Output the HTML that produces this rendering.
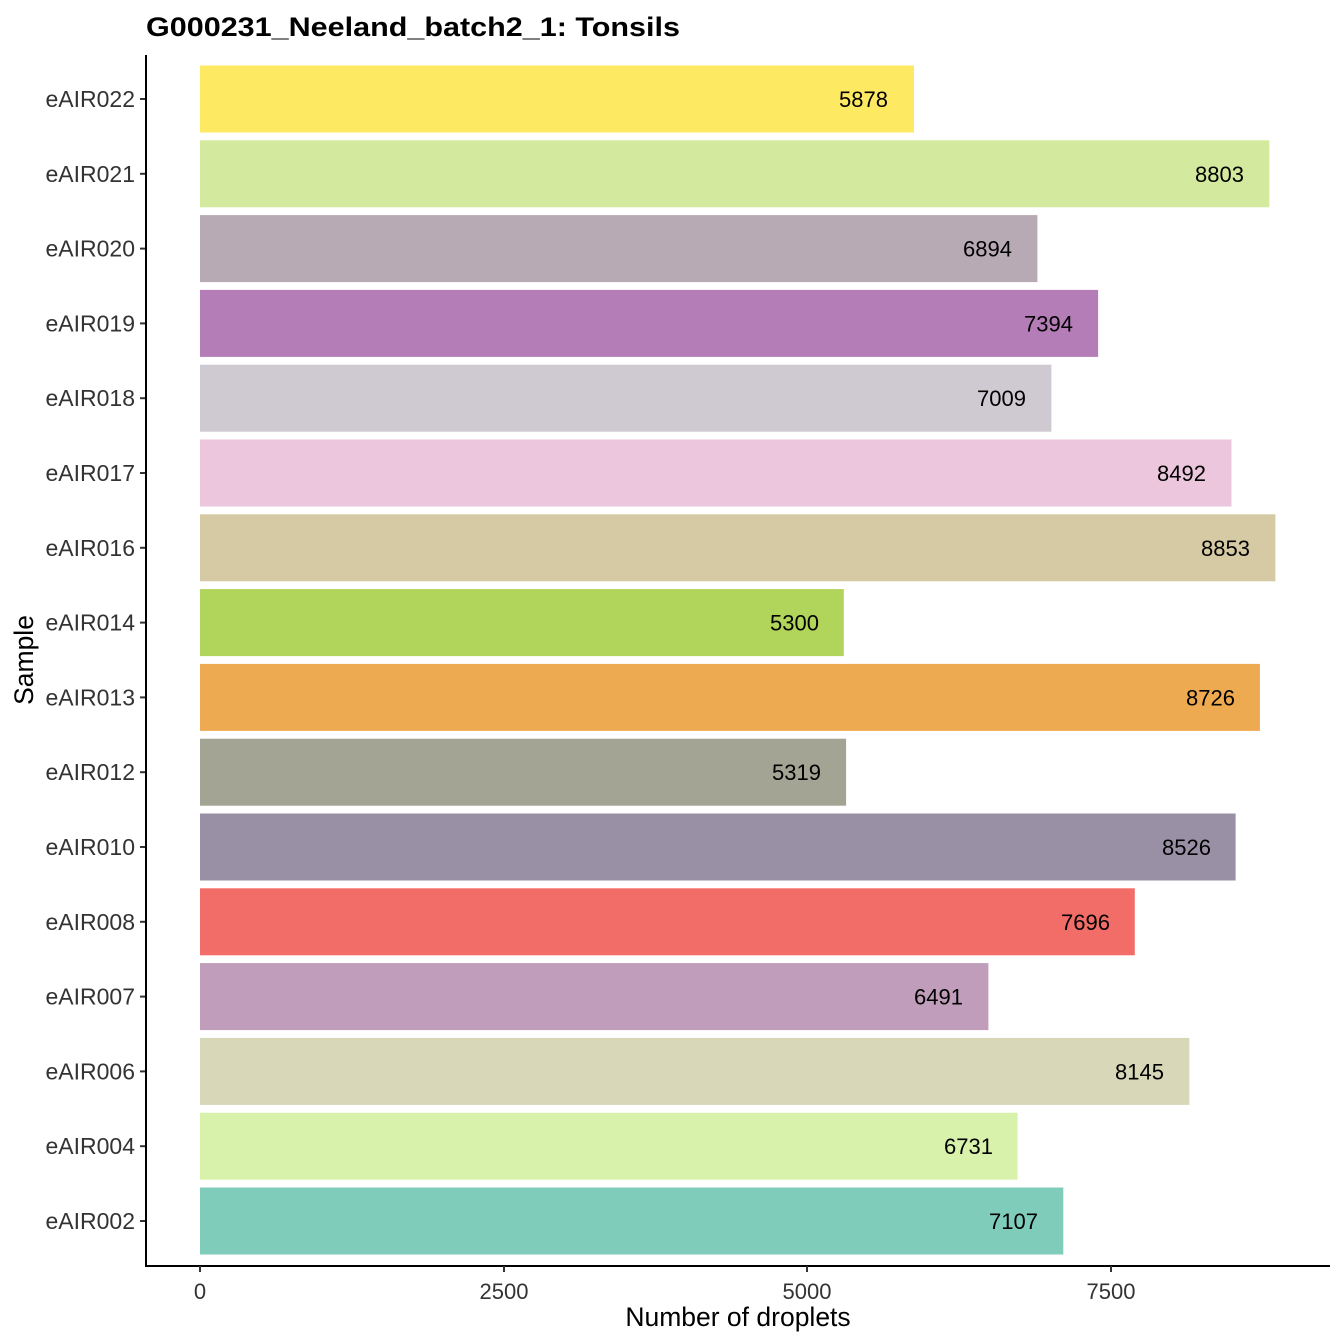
<!DOCTYPE html>
<html><head><meta charset="utf-8"><style>html,body{margin:0;padding:0;background:#fff}svg{display:block}text{font-family:"Liberation Sans",Arial,sans-serif}</style></head>
<body>
<svg width="1344" height="1344" xmlns="http://www.w3.org/2000/svg">
<rect width="1344" height="1344" fill="#fff"/>
<text x="146" y="36" font-size="27" font-weight="bold" fill="#000" textLength="534" lengthAdjust="spacingAndGlyphs">G000231_Neeland_batch2_1: Tonsils</text>
<g>
<rect x="200" y="65.5" width="714" height="67" fill="#FEEA62"/>
<rect x="200" y="140.3" width="1069.3" height="67" fill="#D3E99D"/>
<rect x="200" y="215.1" width="837.4" height="67" fill="#B8AAB5"/>
<rect x="200" y="289.9" width="898.1" height="67" fill="#B47DB7"/>
<rect x="200" y="364.7" width="851.4" height="67" fill="#CFCAD1"/>
<rect x="200" y="439.5" width="1031.5" height="67" fill="#ECC6DC"/>
<rect x="200" y="514.3" width="1075.4" height="67" fill="#D5CAA3"/>
<rect x="200" y="589.1" width="643.8" height="67" fill="#B0D55A"/>
<rect x="200" y="663.9" width="1059.9" height="67" fill="#EEAA50"/>
<rect x="200" y="738.7" width="646.1" height="67" fill="#A3A494"/>
<rect x="200" y="813.5" width="1035.6" height="67" fill="#9990A6"/>
<rect x="200" y="888.3" width="934.8" height="67" fill="#F26D67"/>
<rect x="200" y="963.1" width="788.4" height="67" fill="#C09DBA"/>
<rect x="200" y="1037.9" width="989.4" height="67" fill="#D8D7B8"/>
<rect x="200" y="1112.7" width="817.6" height="67" fill="#D9F2AB"/>
<rect x="200" y="1187.5" width="863.3" height="67" fill="#7FCCBA"/>
</g>
<g font-size="22" text-anchor="end" fill="#000">
<text x="888" y="107">5878</text>
<text x="1244" y="181.8">8803</text>
<text x="1012" y="256.6">6894</text>
<text x="1073" y="331.4">7394</text>
<text x="1026" y="406.2">7009</text>
<text x="1206" y="481">8492</text>
<text x="1250" y="555.8">8853</text>
<text x="819" y="630.6">5300</text>
<text x="1235" y="705.4">8726</text>
<text x="821" y="780.2">5319</text>
<text x="1211" y="855">8526</text>
<text x="1110" y="929.8">7696</text>
<text x="963" y="1004.6">6491</text>
<text x="1164" y="1079.4">8145</text>
<text x="993" y="1154.2">6731</text>
<text x="1038" y="1229">7107</text>
</g>
<g stroke="#333" stroke-width="2">
<line x1="140" y1="99" x2="146" y2="99"/><line x1="140" y1="173.8" x2="146" y2="173.8"/><line x1="140" y1="248.6" x2="146" y2="248.6"/><line x1="140" y1="323.4" x2="146" y2="323.4"/><line x1="140" y1="398.2" x2="146" y2="398.2"/><line x1="140" y1="473" x2="146" y2="473"/><line x1="140" y1="547.8" x2="146" y2="547.8"/><line x1="140" y1="622.6" x2="146" y2="622.6"/><line x1="140" y1="697.4" x2="146" y2="697.4"/><line x1="140" y1="772.2" x2="146" y2="772.2"/><line x1="140" y1="847" x2="146" y2="847"/><line x1="140" y1="921.8" x2="146" y2="921.8"/><line x1="140" y1="996.6" x2="146" y2="996.6"/><line x1="140" y1="1071.4" x2="146" y2="1071.4"/><line x1="140" y1="1146.2" x2="146" y2="1146.2"/><line x1="140" y1="1221" x2="146" y2="1221"/>
</g>
<g font-size="23" text-anchor="end" fill="#333">
<text x="135" y="107">eAIR022</text>
<text x="135" y="181.8">eAIR021</text>
<text x="135" y="256.6">eAIR020</text>
<text x="135" y="331.4">eAIR019</text>
<text x="135" y="406.2">eAIR018</text>
<text x="135" y="481">eAIR017</text>
<text x="135" y="555.8">eAIR016</text>
<text x="135" y="630.6">eAIR014</text>
<text x="135" y="705.4">eAIR013</text>
<text x="135" y="780.2">eAIR012</text>
<text x="135" y="855">eAIR010</text>
<text x="135" y="929.8">eAIR008</text>
<text x="135" y="1004.6">eAIR007</text>
<text x="135" y="1079.4">eAIR006</text>
<text x="135" y="1154.2">eAIR004</text>
<text x="135" y="1229">eAIR002</text>
</g>
<line x1="146" y1="55" x2="146" y2="1267" stroke="#000" stroke-width="2"/>
<line x1="145" y1="1266" x2="1330" y2="1266" stroke="#000" stroke-width="2"/>
<g font-size="22" fill="#333" text-anchor="middle">
<line x1="200" y1="1266" x2="200" y2="1272" stroke="#333" stroke-width="2"/><text x="200" y="1299">0</text>
<line x1="504" y1="1266" x2="504" y2="1272" stroke="#333" stroke-width="2"/><text x="504" y="1299">2500</text>
<line x1="807" y1="1266" x2="807" y2="1272" stroke="#333" stroke-width="2"/><text x="807" y="1299">5000</text>
<line x1="1111" y1="1266" x2="1111" y2="1272" stroke="#333" stroke-width="2"/><text x="1111" y="1299">7500</text>
</g>
<text x="738" y="1326" font-size="26.5" text-anchor="middle" fill="#000">Number of droplets</text>
<text transform="translate(33,660) rotate(-90)" font-size="26.5" text-anchor="middle" fill="#000">Sample</text>
</svg>
</body></html>
